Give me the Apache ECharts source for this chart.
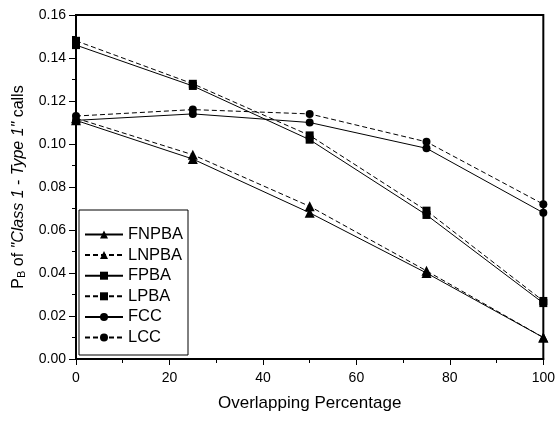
<!DOCTYPE html>
<html>
<head>
<meta charset="utf-8">
<script src="https://cdn.jsdelivr.net/npm/echarts@6/dist/echarts.min.js"></script>
<style>
html,body{margin:0;padding:0;background:#fff;}
#c{width:558px;height:421px;}
</style>
</head>
<body>
<div id="c"></div>
<script>
const xValues = [0, 25, 50, 75, 100];
const FNPBA = [0.111, 0.093, 0.068, 0.040, 0.010];
const LNPBA = [0.112, 0.095, 0.071, 0.041, 0.010];
const FPBA  = [0.146, 0.127, 0.102, 0.067, 0.026];
const LPBA  = [0.148, 0.128, 0.104, 0.069, 0.027];
const FCC   = [0.111, 0.114, 0.110, 0.098, 0.068];
const LCC   = [0.113, 0.116, 0.114, 0.101, 0.072];

const seriesDefs = [
  {name: 'FNPBA', data: FNPBA, symbol: 'triangle', size: 10, dashed: false},
  {name: 'LNPBA', data: LNPBA, symbol: 'triangle', size: 10, dashed: true},
  {name: 'FPBA',  data: FPBA,  symbol: 'rect',     size: 8,  dashed: false},
  {name: 'LPBA',  data: LPBA,  symbol: 'rect',     size: 8,  dashed: true},
  {name: 'FCC',   data: FCC,   symbol: 'circle',   size: 8,  dashed: false},
  {name: 'LCC',   data: LCC,   symbol: 'circle',   size: 8,  dashed: true}
];

const font = 'Liberation Sans, Arial, sans-serif';
const chart = echarts.init(document.getElementById('c'), null, {renderer: 'canvas'});

chart.setOption({
  backgroundColor: '#fff',
  animation: false,
  grid: {left: 76, right: 14, top: 15, bottom: 62, show: true, borderColor: '#000', borderWidth: 2, backgroundColor: 'transparent'},
  legend: {
    orient: 'vertical', left: 79, top: 210,
    borderColor: '#000', borderWidth: 1, borderRadius: 0,
    padding: [16, 5, 9, 5],
    itemWidth: 38, itemHeight: 10, itemGap: 3.6,
    textStyle: {fontFamily: font, fontSize: 16.5, color: '#000'},
    data: seriesDefs.map(s => s.name)
  },
  xAxis: {
    type: 'value', min: 0, max: 100, interval: 20,
    name: 'Overlapping Percentage', nameLocation: 'middle', nameGap: 36,
    nameTextStyle: {fontFamily: font, fontSize: 17, color: '#000'},
    axisLine: {show: true, lineStyle: {color: '#000', width: 2}},
    axisTick: {show: true, inside: false, length: 6, lineStyle: {color: '#000', width: 1}},
    minorTick: {show: true, splitNumber: 2, length: 4, lineStyle: {color: '#000', width: 1}},
    axisLabel: {fontFamily: font, fontSize: 14, color: '#000', margin: 12},
    splitLine: {show: false}
  },
  yAxis: {
    type: 'value', min: 0, max: 0.16, interval: 0.02,
    name: '{n|P}{sub|B}{n| of }{i|"Class 1}{n| - }{i|Type 1"}{n| calls}',
    nameLocation: 'middle', nameGap: 43, nameRotate: 90,
    nameTextStyle: {
      fontFamily: font, fontSize: 16, color: '#000',
      rich: {
        n: {fontFamily: font, fontSize: 16, color: '#000', lineHeight: 18},
        i: {fontFamily: font, fontSize: 16, color: '#000', fontStyle: 'italic', lineHeight: 18},
        sub: {fontFamily: font, fontSize: 11, color: '#000', lineHeight: 8, verticalAlign: 'bottom'}
      }
    },
    axisLine: {show: true, lineStyle: {color: '#000', width: 2}},
    axisTick: {show: true, inside: false, length: 7, lineStyle: {color: '#000', width: 1}},
    minorTick: {show: true, splitNumber: 2, length: 4, lineStyle: {color: '#000', width: 1}},
    axisLabel: {fontFamily: font, fontSize: 14, color: '#000', margin: 10, formatter: v => v.toFixed(2)},
    splitLine: {show: false}
  },
  series: seriesDefs.map(s => ({
    name: s.name, type: 'line',
    data: xValues.map((x, i) => [x, s.data[i]]),
    symbol: s.symbol, symbolSize: s.size, showSymbol: true,
    lineStyle: {color: '#000', width: 1, type: s.dashed ? [5, 3] : 'solid'},
    itemStyle: {color: '#000', borderWidth: 0},
    emphasis: {disabled: true},
    clip: false
  }))
});
</script>
</body>
</html>
